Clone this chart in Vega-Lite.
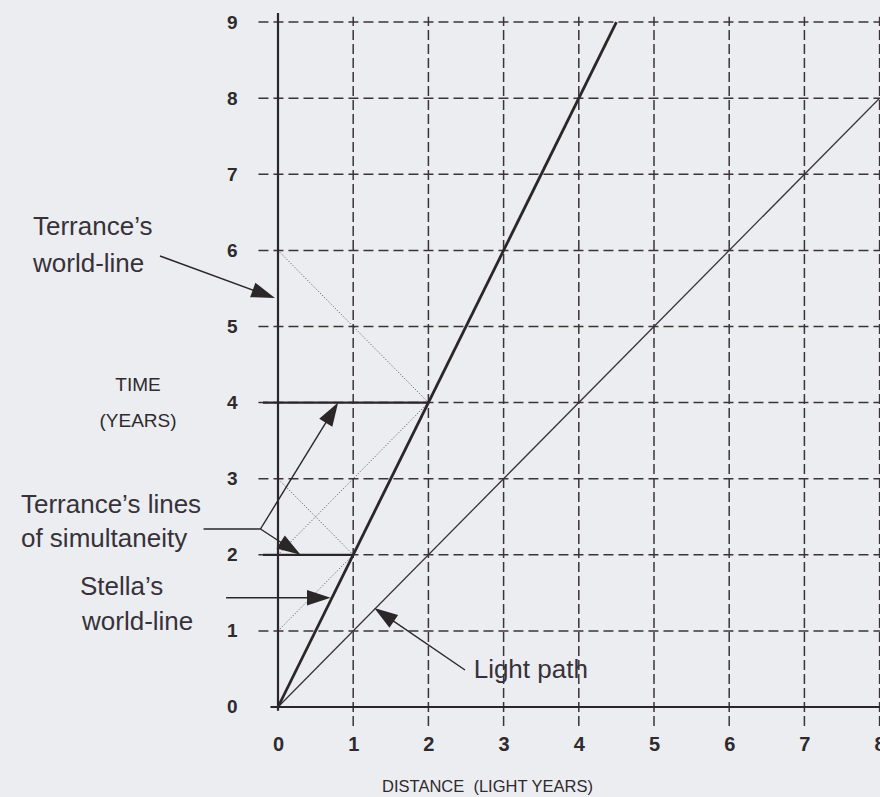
{
  "$schema": "https://vega.github.io/schema/vega-lite/v6.json",
  "width": 880,
  "height": 797,
  "autosize": {"type": "none"},
  "padding": 0,
  "background": "#ecedf1",
  "config": {"view": {"stroke": null}},
  "datasets": {
    "segments": [
      {"kind": "gridV", "x0": 1, "y0": -0.25, "x1": 1, "y1": 9.07},
      {"kind": "gridV", "x0": 2, "y0": -0.25, "x1": 2, "y1": 9.07},
      {"kind": "gridV", "x0": 3, "y0": -0.25, "x1": 3, "y1": 9.07},
      {"kind": "gridV", "x0": 4, "y0": -0.25, "x1": 4, "y1": 9.07},
      {"kind": "gridV", "x0": 5, "y0": -0.25, "x1": 5, "y1": 9.07},
      {"kind": "gridV", "x0": 6, "y0": -0.25, "x1": 6, "y1": 9.07},
      {"kind": "gridV", "x0": 7, "y0": -0.25, "x1": 7, "y1": 9.07},
      {"kind": "gridV", "x0": 8, "y0": -0.25, "x1": 8, "y1": 9.07},
      {"kind": "gridH", "x0": -0.26, "y0": 1, "x1": 8.0053, "y1": 1},
      {"kind": "gridH", "x0": -0.26, "y0": 2, "x1": 8.0053, "y1": 2},
      {"kind": "gridH", "x0": -0.26, "y0": 3, "x1": 8.0053, "y1": 3},
      {"kind": "gridH", "x0": -0.26, "y0": 4, "x1": 8.0053, "y1": 4},
      {"kind": "gridH", "x0": -0.26, "y0": 5, "x1": 8.0053, "y1": 5},
      {"kind": "gridH", "x0": -0.26, "y0": 6, "x1": 8.0053, "y1": 6},
      {"kind": "gridH", "x0": -0.26, "y0": 7, "x1": 8.0053, "y1": 7},
      {"kind": "gridH", "x0": -0.26, "y0": 8, "x1": 8.0053, "y1": 8},
      {"kind": "gridH", "x0": -0.26, "y0": 9, "x1": 8.0053, "y1": 9},
      {"kind": "signal", "x0": 0, "y0": 1, "x1": 1, "y1": 2},
      {"kind": "signal", "x0": 1, "y0": 2, "x1": 0, "y1": 3},
      {"kind": "signal", "x0": 0, "y0": 2, "x1": 2, "y1": 4},
      {"kind": "signal", "x0": 2, "y0": 4, "x1": 0, "y1": 6},
      {"kind": "light", "x0": 0, "y0": 0, "x1": 8, "y1": 8},
      {"kind": "axis", "x0": -0.1, "y0": 0, "x1": 8.0053, "y1": 0},
      {"kind": "axis", "x0": 0, "y0": -0.05, "x1": 0, "y1": 9.12},
      {"kind": "axis", "x0": -0.2, "y0": 2, "x1": 1, "y1": 2},
      {"kind": "axis", "x0": -0.2, "y0": 4, "x1": 2, "y1": 4},
      {"kind": "stella", "x0": 0, "y0": 0, "x1": 4.5, "y1": 9},
      {"kind": "leader", "x0": -1.569, "y0": 5.926, "x1": -0.2, "y1": 5.43},
      {"kind": "leader", "x0": -0.99, "y0": 2.339, "x1": -0.233, "y1": 2.339},
      {"kind": "leader", "x0": -0.233, "y0": 2.339, "x1": 0.72, "y1": 3.87},
      {"kind": "leader", "x0": -0.233, "y0": 2.339, "x1": 0.2, "y1": 2.06},
      {"kind": "leader", "x0": -0.69, "y0": 1.436, "x1": 0.55, "y1": 1.436},
      {"kind": "leader", "x0": 2.487, "y0": 0.486, "x1": 1.4, "y1": 1.22}
    ],
    "arrows": [
      {"id": "terrance", "x0": -0.04, "y0": 5.374},
      {"id": "simUpper", "x0": 0.80, "y0": 4.0},
      {"id": "simLower", "x0": 0.30, "y0": 2.0},
      {"id": "stella", "x0": 0.70, "y0": 1.436},
      {"id": "light", "x0": 1.28, "y0": 1.30}
    ],
    "labels": [
      {"text": "Terrance’s", "x0": -3.258, "y0": 6.202},
      {"text": "world-line", "x0": -3.258, "y0": 5.717},
      {"text": "Terrance’s lines", "x0": -3.418, "y0": 2.545},
      {"text": "of simultaneity", "x0": -3.418, "y0": 2.107},
      {"text": "Stella’s", "x0": -2.633, "y0": 1.472},
      {"text": "world-line", "x0": -2.606, "y0": 1.012},
      {"text": "Light path", "x0": 2.602, "y0": 0.377}
    ]
  },
  "encoding": {
    "x": {
      "field": "x0",
      "type": "quantitative",
      "scale": {"domain": [-3.6968, 8.0053], "nice": false, "zero": false},
      "axis": {
        "orient": "bottom",
        "offset": -67,
        "values": [0, 1, 2, 3, 4, 5, 6, 7, 8],
        "domain": false,
        "ticks": false,
        "tickSize": 0,
        "grid": false,
        "labelPadding": 20,
        "labelBaseline": "alphabetic",
        "labelFont": "Liberation Sans",
        "labelFontSize": 20,
        "labelFontWeight": "bold",
        "labelColor": "#2e2a2d",
        "labelFlush": false,
        "labelOverlap": false,
        "labelBound": false,
        "title": "DISTANCE\u00a0\u00a0(LIGHT YEARS)",
        "titleX": 487,
        "titleY": 61,
        "titleAlign": "center",
        "titleAnchor": "start",
        "titleBaseline": "alphabetic",
        "titleFont": "Liberation Sans",
        "titleFontSize": 16.5,
        "titleFontWeight": "normal",
        "titleColor": "#2e2a2d"
      }
    },
    "y": {
      "field": "y0",
      "type": "quantitative",
      "scale": {"domain": [-1.1827, 9.2904], "nice": false, "zero": false},
      "axis": {
        "orient": "left",
        "offset": -242,
        "values": [0, 1, 2, 3, 4, 5, 6, 7, 8, 9],
        "domain": false,
        "ticks": false,
        "tickSize": 0,
        "grid": false,
        "labelPadding": 5,
        "labelBaseline": "middle",
        "labelFont": "Liberation Sans",
        "labelFontSize": 19,
        "labelFontWeight": "bold",
        "labelColor": "#2e2a2d",
        "labelFlush": false,
        "labelOverlap": false,
        "labelBound": false,
        "title": ["TIME", "(YEARS)"],
        "titleAngle": 0,
        "titleX": -104.5,
        "titleY": 390,
        "titleAlign": "center",
        "titleAnchor": "start",
        "titleBaseline": "alphabetic",
        "titleLineHeight": 36,
        "titleFont": "Liberation Sans",
        "titleFontSize": 19,
        "titleFontWeight": "normal",
        "titleColor": "#2e2a2d"
      }
    }
  },
  "layer": [
    {
      "data": {"name": "segments"},
      "transform": [{"filter": "datum.kind === 'gridV'"}],
      "mark": {"type": "rule", "color": "#3a3437", "strokeWidth": 1.5, "strokeDash": [10, 4]},
      "encoding": {"x2": {"field": "x1"}, "y2": {"field": "y1"}}
    },
    {
      "data": {"name": "segments"},
      "transform": [{"filter": "datum.kind === 'gridH'"}],
      "mark": {"type": "rule", "color": "#3a3437", "strokeWidth": 1.5, "strokeDash": [10, 5]},
      "encoding": {"x2": {"field": "x1"}, "y2": {"field": "y1"}}
    },
    {
      "data": {"name": "segments"},
      "transform": [{"filter": "datum.kind === 'signal'"}],
      "mark": {"type": "rule", "color": "#4a4447", "strokeWidth": 1, "strokeDash": [1, 2]},
      "encoding": {"x2": {"field": "x1"}, "y2": {"field": "y1"}}
    },
    {
      "data": {"name": "segments"},
      "transform": [{"filter": "datum.kind === 'light'"}],
      "mark": {"type": "rule", "color": "#3a3437", "strokeWidth": 1.3},
      "encoding": {"x2": {"field": "x1"}, "y2": {"field": "y1"}}
    },
    {
      "data": {"name": "segments"},
      "transform": [{"filter": "datum.kind === 'axis'"}],
      "mark": {"type": "rule", "color": "#2b2628", "strokeWidth": 2.2},
      "encoding": {"x2": {"field": "x1"}, "y2": {"field": "y1"}}
    },
    {
      "data": {"name": "segments"},
      "transform": [{"filter": "datum.kind === 'stella'"}],
      "mark": {"type": "rule", "color": "#2b2628", "strokeWidth": 2.8},
      "encoding": {"x2": {"field": "x1"}, "y2": {"field": "y1"}}
    },
    {
      "data": {"name": "segments"},
      "transform": [{"filter": "datum.kind === 'leader'"}],
      "mark": {"type": "rule", "color": "#2b2628", "strokeWidth": 1.4},
      "encoding": {"x2": {"field": "x1"}, "y2": {"field": "y1"}}
    },
    {
      "data": {"name": "arrows"},
      "transform": [{"filter": "datum.id === 'terrance'"}],
      "mark": {"type": "point", "shape": "M0,0L-2,-0.65L-2,0.65Z", "filled": true, "size": 560, "angle": 20.06, "color": "#2b2628", "opacity": 1, "strokeWidth": 0}
    },
    {
      "data": {"name": "arrows"},
      "transform": [{"filter": "datum.id === 'simUpper'"}],
      "mark": {"type": "point", "shape": "M0,0L-2,-0.65L-2,0.65Z", "filled": true, "size": 560, "angle": 301.6, "color": "#2b2628", "opacity": 1, "strokeWidth": 0}
    },
    {
      "data": {"name": "arrows"},
      "transform": [{"filter": "datum.id === 'simLower'"}],
      "mark": {"type": "point", "shape": "M0,0L-2,-0.65L-2,0.65Z", "filled": true, "size": 560, "angle": 32.75, "color": "#2b2628", "opacity": 1, "strokeWidth": 0}
    },
    {
      "data": {"name": "arrows"},
      "transform": [{"filter": "datum.id === 'stella'"}],
      "mark": {"type": "point", "shape": "M0,0L-2,-0.65L-2,0.65Z", "filled": true, "size": 560, "angle": 0, "color": "#2b2628", "opacity": 1, "strokeWidth": 0}
    },
    {
      "data": {"name": "arrows"},
      "transform": [{"filter": "datum.id === 'light'"}],
      "mark": {"type": "point", "shape": "M0,0L-2,-0.65L-2,0.65Z", "filled": true, "size": 560, "angle": 214.3, "color": "#2b2628", "opacity": 1, "strokeWidth": 0}
    },
    {
      "data": {"name": "labels"},
      "mark": {"type": "text", "align": "left", "baseline": "alphabetic", "font": "Liberation Sans", "fontSize": 26, "color": "#37323a"},
      "encoding": {"text": {"field": "text"}}
    }
  ]
}
